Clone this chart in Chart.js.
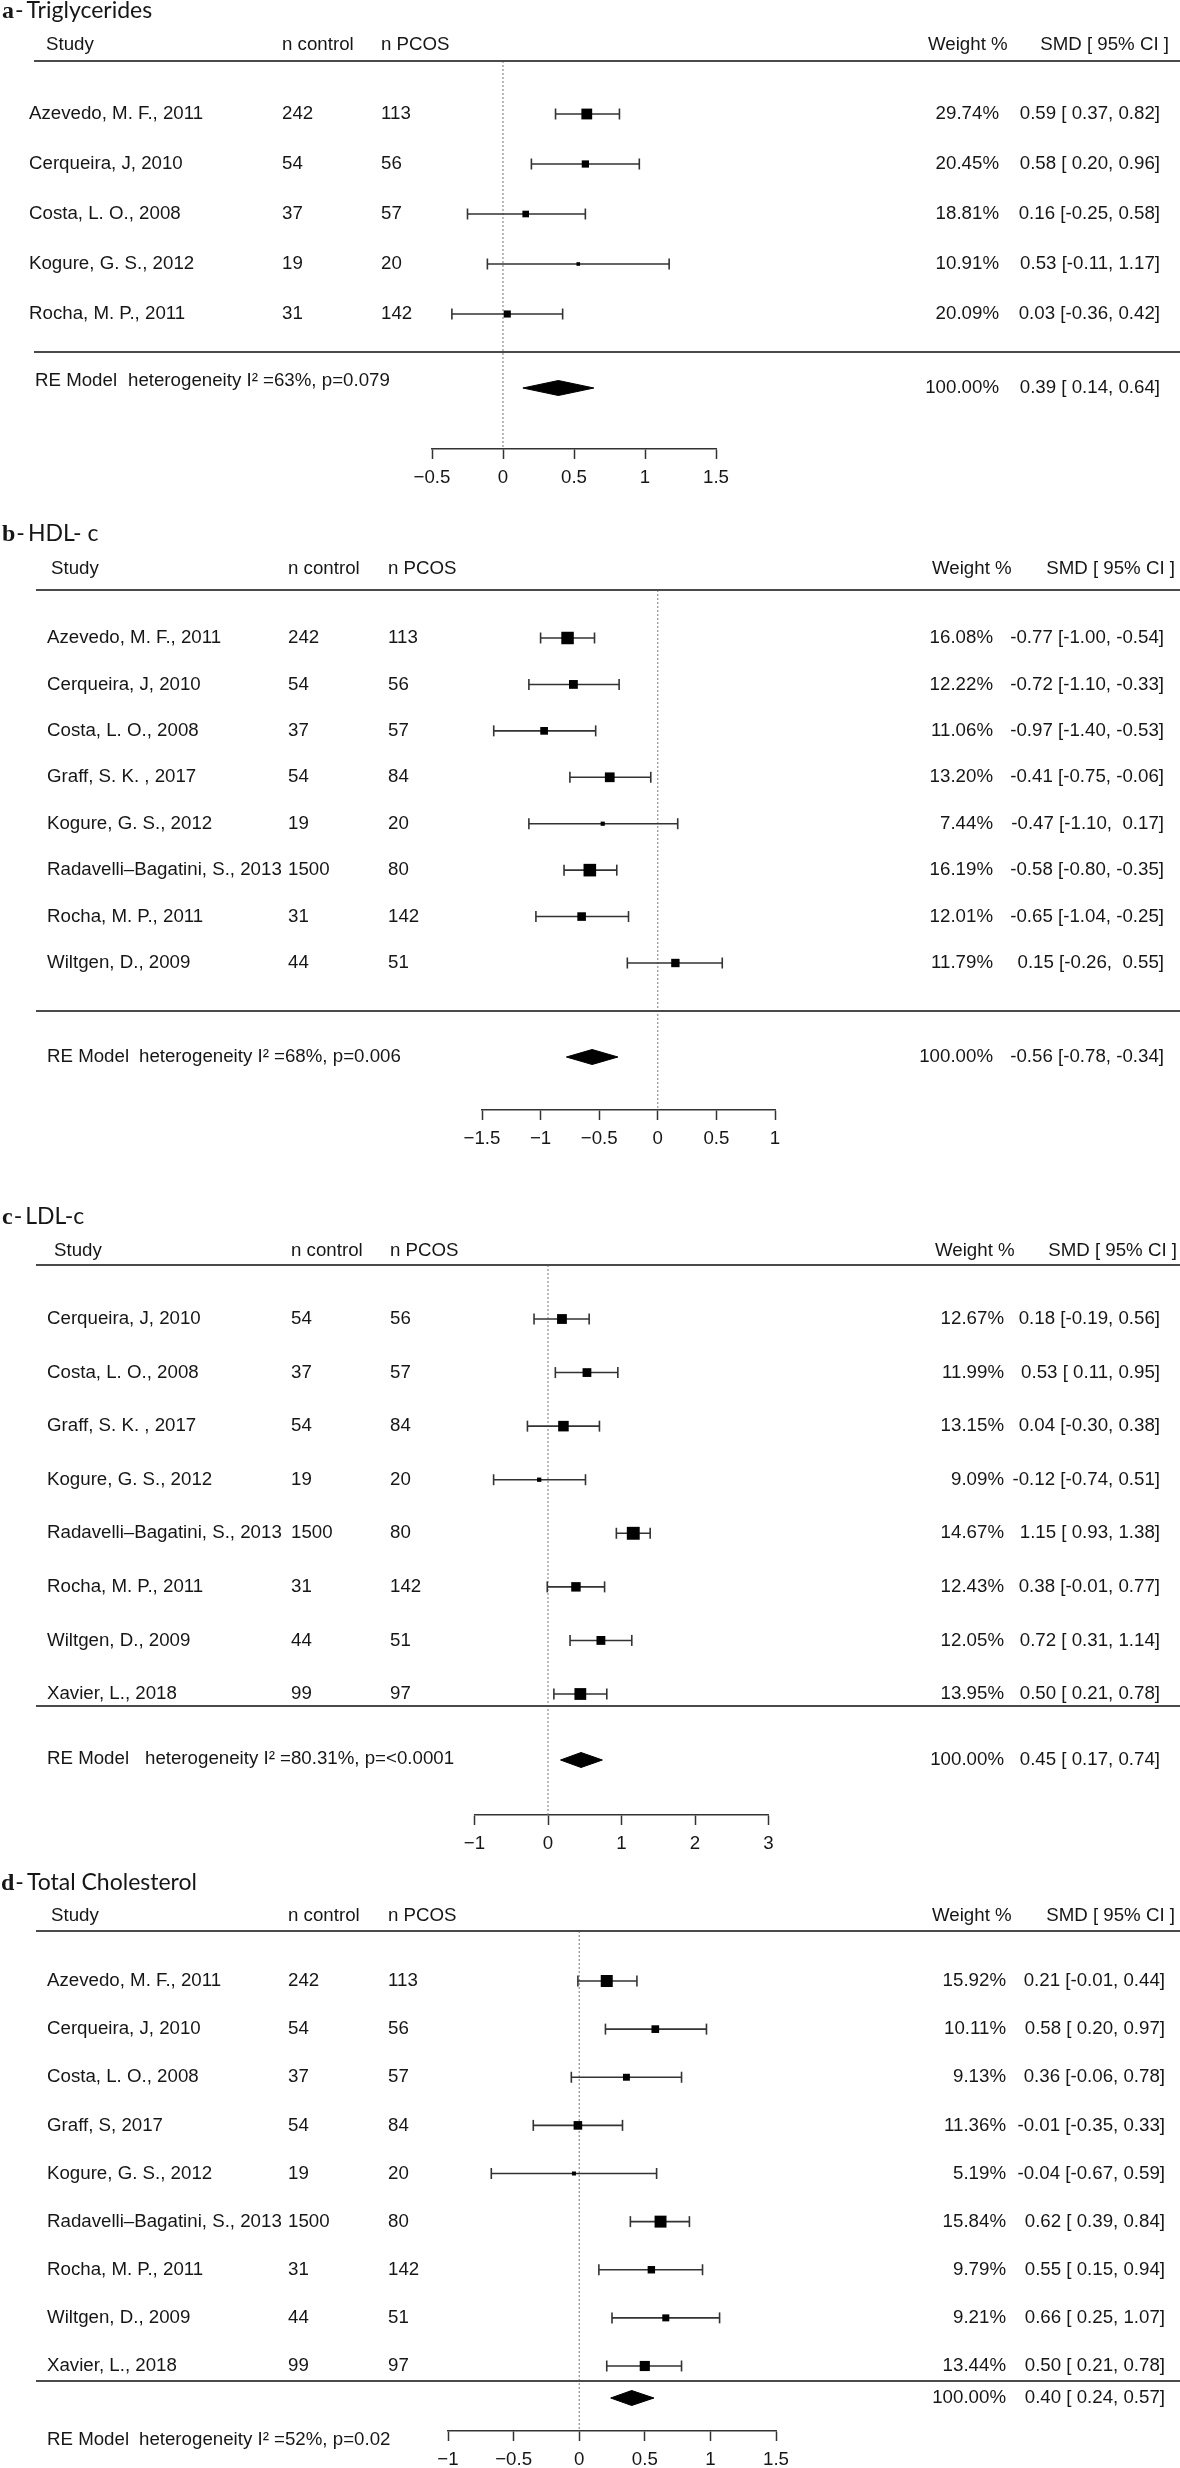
<!DOCTYPE html>
<html>
<head>
<meta charset="utf-8">
<script src="https://cdn.jsdelivr.net/npm/chart.js@4.4.1/dist/chart.umd.min.js"></script>
<style>
  html, body { margin: 0; padding: 0; background: #fff; }
  #wrap { position: relative; width: 1180px; height: 2468px; overflow: hidden; }
  #wrap canvas { position: absolute; left: 0; }
</style>
</head>
<body>
<div id="wrap">
  <canvas id="panelA"></canvas>
  <canvas id="panelB"></canvas>
  <canvas id="panelC"></canvas>
  <canvas id="panelD"></canvas>
</div>
<script>
(function(){
    "use strict";

    // ---- a - Triglycerides
    const studiesTG = ['Azevedo, M. F., 2011', 'Cerqueira, J, 2010', 'Costa, L. O., 2008', 'Kogure, G. S., 2012', 'Rocha, M. P., 2011'];
    const nControlTG = [242, 54, 37, 19, 31];
    const nPcosTG = [113, 56, 57, 20, 142];
    const weightTG = [29.74, 20.45, 18.81, 10.91, 20.09];
    const smdTG = [0.59, 0.58, 0.16, 0.53, 0.03];
    const loTG = [0.37, 0.20, -0.25, -0.11, -0.36];
    const hiTG = [0.82, 0.96, 0.58, 1.17, 0.42];
    const summaryTG = [0.39, 0.14, 0.64];
    const hetTG = 'heterogeneity I\u00B2 =63%, p=0.079';
    const ticksTG = [-0.5, 0, 0.5, 1, 1.5];

    // ---- b - HDL-c
    const studiesHDL = ['Azevedo, M. F., 2011', 'Cerqueira, J, 2010', 'Costa, L. O., 2008', 'Graff, S. K. , 2017', 'Kogure, G. S., 2012', 'Radavelli\u2013Bagatini, S., 2013', 'Rocha, M. P., 2011', 'Wiltgen, D., 2009'];
    const nControlHDL = [242, 54, 37, 54, 19, 1500, 31, 44];
    const nPcosHDL = [113, 56, 57, 84, 20, 80, 142, 51];
    const weightHDL = [16.08, 12.22, 11.06, 13.20, 7.44, 16.19, 12.01, 11.79];
    const smdHDL = [-0.77, -0.72, -0.97, -0.41, -0.47, -0.58, -0.65, 0.15];
    const loHDL = [-1.00, -1.10, -1.40, -0.75, -1.10, -0.80, -1.04, -0.26];
    const hiHDL = [-0.54, -0.33, -0.53, -0.06, 0.17, -0.35, -0.25, 0.55];
    const summaryHDL = [-0.56, -0.78, -0.34];
    const hetHDL = 'heterogeneity I\u00B2 =68%, p=0.006';
    const ticksHDL = [-1.5, -1, -0.5, 0, 0.5, 1];

    // ---- c - LDL-c (marks as drawn; printed values differ for two rows)
    const studiesLDL = ['Cerqueira, J, 2010', 'Costa, L. O., 2008', 'Graff, S. K. , 2017', 'Kogure, G. S., 2012', 'Radavelli\u2013Bagatini, S., 2013', 'Rocha, M. P., 2011', 'Wiltgen, D., 2009', 'Xavier, L., 2018'];
    const nControlLDL = [54, 37, 54, 19, 1500, 31, 44, 99];
    const nPcosLDL = [56, 57, 84, 20, 80, 142, 51, 97];
    const weightLDL = [12.67, 11.99, 13.15, 9.09, 14.67, 12.43, 12.05, 13.95];
    const smdLDL = [0.19, 0.53, 0.21, -0.12, 1.16, 0.38, 0.72, 0.44];
    const loLDL = [-0.19, 0.10, -0.28, -0.74, 0.93, -0.01, 0.30, 0.08];
    const hiLDL = [0.56, 0.95, 0.70, 0.51, 1.39, 0.77, 1.14, 0.80];
    const smdPrintLDL = [0.18, 0.53, 0.04, -0.12, 1.15, 0.38, 0.72, 0.50];
    const loPrintLDL = [-0.19, 0.11, -0.30, -0.74, 0.93, -0.01, 0.31, 0.21];
    const hiPrintLDL = [0.56, 0.95, 0.38, 0.51, 1.38, 0.77, 1.14, 0.78];
    const summaryLDL = [0.45, 0.17, 0.74];
    const hetLDL = 'heterogeneity I\u00B2 =80.31%, p=<0.0001';
    const ticksLDL = [-1, 0, 1, 2, 3];

    // ---- d - Total Cholesterol
    const studiesTC = ['Azevedo, M. F., 2011', 'Cerqueira, J, 2010', 'Costa, L. O., 2008', 'Graff, S, 2017', 'Kogure, G. S., 2012', 'Radavelli\u2013Bagatini, S., 2013', 'Rocha, M. P., 2011', 'Wiltgen, D., 2009', 'Xavier, L., 2018'];
    const nControlTC = [242, 54, 37, 54, 19, 1500, 31, 44, 99];
    const nPcosTC = [113, 56, 57, 84, 20, 80, 142, 51, 97];
    const weightTC = [15.92, 10.11, 9.13, 11.36, 5.19, 15.84, 9.79, 9.21, 13.44];
    const smdTC = [0.21, 0.58, 0.36, -0.01, -0.04, 0.62, 0.55, 0.66, 0.50];
    const loTC = [-0.01, 0.20, -0.06, -0.35, -0.67, 0.39, 0.15, 0.25, 0.21];
    const hiTC = [0.44, 0.97, 0.78, 0.33, 0.59, 0.84, 0.94, 1.07, 0.78];
    const summaryTC = [0.40, 0.24, 0.57];
    const hetTC = 'heterogeneity I\u00B2 =52%, p=0.02';
    const ticksTC = [-1, -0.5, 0, 0.5, 1, 1.5];

    const FONT = "'Liberation Sans', Arial, Helvetica, sans-serif";
    const TXT = '18.7px ' + FONT;
    const INK = '#161616';
    const MINUS = '\u2212';

    Chart.defaults.font.family = FONT;

    const panels = [
        {
            canvasId: 'panelA', letter: 'a', title: 'Triglycerides',
            studies: studiesTG, nControl: nControlTG, nPcos: nPcosTG, weight: weightTG,
            est: smdTG, lo: loTG, hi: hiTG, summary: summaryTG, het: hetTG, ticks: ticksTG,
            layout: { top: 0, height: 500, titleY: 10, headY: 45, lineY: 61, firstRowY: 114, lastRowY: 314,
                      sepY: 352, sumY: 388, sumTextY: 381, axisY: 449, xLeft: 432, xRight: 716, boxBase: 7.2,
                      titleX: 2, ruleX: 34, studyX: 29, studyHeadX: 46, ncX: 282, npX: 381,
                      wRight: 999, wHeadX: 928, smdRight: 1160, smdHeadRight: 1169, reX: 35, hetX: 128 }
        },
        {
            canvasId: 'panelB', letter: 'b', title: 'HDL- c',
            studies: studiesHDL, nControl: nControlHDL, nPcos: nPcosHDL, weight: weightHDL,
            est: smdHDL, lo: loHDL, hi: hiHDL, summary: summaryHDL, het: hetHDL, ticks: ticksHDL,
            layout: { top: 500, height: 665, titleY: 533, headY: 569, lineY: 590, firstRowY: 638, lastRowY: 963,
                      sepY: 1011, sumY: 1057, sumTextY: 1057, axisY: 1110, xLeft: 482, xRight: 775, boxBase: 8.4,
                      titleX: 2, ruleX: 36, studyX: 47, studyHeadX: 51, ncX: 288, npX: 388,
                      wRight: 993, wHeadX: 932, smdRight: 1164, smdHeadRight: 1175, reX: 47, hetX: 139 }
        },
        {
            canvasId: 'panelC', letter: 'c', title: 'LDL-c',
            studies: studiesLDL, nControl: nControlLDL, nPcos: nPcosLDL, weight: weightLDL,
            est: smdLDL, lo: loLDL, hi: hiLDL, summary: summaryLDL, het: hetLDL, ticks: ticksLDL,
            estPrint: smdPrintLDL, loPrint: loPrintLDL, hiPrint: hiPrintLDL,
            layout: { top: 1165, height: 697, titleY: 1216, headY: 1251, lineY: 1265, firstRowY: 1319, lastRowY: 1694,
                      sepY: 1706, sumY: 1760, sumTextY: 1759, axisY: 1815, xLeft: 474.5, xRight: 768.5, boxBase: 8.6,
                      titleX: 2, ruleX: 36, studyX: 47, studyHeadX: 54, ncX: 291, npX: 390,
                      wRight: 1004, wHeadX: 935, smdRight: 1160, smdHeadRight: 1177, reX: 47, hetX: 145 }
        },
        {
            canvasId: 'panelD', letter: 'd', title: 'Total Cholesterol',
            studies: studiesTC, nControl: nControlTC, nPcos: nPcosTC, weight: weightTC,
            est: smdTC, lo: loTC, hi: hiTC, summary: summaryTC, het: hetTC, ticks: ticksTC,
            layout: { top: 1862, height: 606, titleY: 1882, headY: 1916, lineY: 1931, firstRowY: 1981, lastRowY: 2366,
                      sepY: 2381, sumY: 2398, sumTextY: 2440, axisY: 2431, xLeft: 448, xRight: 776, boxBase: 8.0,
                      titleX: 1, ruleX: 36, studyX: 47, studyHeadX: 51, ncX: 288, npX: 388,
                      wRight: 1006, wHeadX: 932, smdRight: 1165, smdHeadRight: 1175, reX: 47, hetX: 139 }
        }
    ];

    // metafor-like column formatting: pad positives with a space when the column has negatives
    function fmtColumn(vals) {
        const anyNeg = vals.some(v => v < 0);
        return vals.map(v => (v < 0 ? '-' : (anyNeg ? ' ' : '')) + Math.abs(v).toFixed(2));
    }

    function tickLabel(v) {
        return (v < 0 ? MINUS : '') + String(Math.abs(v));
    }

    function ciStrings(p) {
        const e = (p.estPrint || p.est).concat([p.summary[0]]);
        const l = (p.loPrint || p.lo).concat([p.summary[1]]);
        const h = (p.hiPrint || p.hi).concat([p.summary[2]]);
        const fe = fmtColumn(e), fl = fmtColumn(l), fh = fmtColumn(h);
        return fe.map((s, i) => s + ' [' + fl[i] + ', ' + fh[i] + ']');
    }

    function drawText(chart, p, rows) {
        const L = p.layout;
        const ctx = chart.ctx;
        const ys = chart.scales.y;
        const ca = chart.chartArea;
        const off = L.top;
        const k = p.studies.length;
        const ci = ciStrings(p);

        ctx.save();
        ctx.fillStyle = INK;

        // panel title
        ctx.textBaseline = 'alphabetic';
        ctx.textAlign = 'left';
        const tb = L.titleY - off + 8;
        ctx.font = "bold 24px 'Liberation Serif', 'DejaVu Serif', serif";
        ctx.fillText(p.letter, L.titleX, tb);
        let x = L.titleX + ctx.measureText(p.letter).width + 1;
        ctx.font = "23px Lato, 'Open Sans', sans-serif";
        ctx.fillText('-', x, tb);
        x += ctx.measureText('-').width + 3;
        ctx.fillText(p.title, x, tb);

        // column headers
        ctx.font = TXT;
        ctx.textBaseline = 'middle';
        const hy = L.headY - off;
        ctx.fillText('Study', L.studyHeadX, hy);
        ctx.fillText('n control', L.ncX, hy);
        ctx.fillText('n PCOS', L.npX, hy);
        ctx.fillText('Weight %', L.wHeadX, hy);
        ctx.textAlign = 'right';
        ctx.fillText('SMD [ 95% CI ]', L.smdHeadRight, hy);

        // rules
        ctx.strokeStyle = '#4a4a4a';
        ctx.lineWidth = 2;
        ctx.beginPath();
        ctx.moveTo(L.ruleX, ca.top);
        ctx.lineTo(1180, ca.top);
        const sepPx = ys.getPixelForValue(rows.sep);
        ctx.moveTo(L.ruleX, sepPx);
        ctx.lineTo(1180, sepPx);
        ctx.stroke();

        // study rows
        for (let i = 0; i < k; i++) {
            const y = ys.getPixelForValue(i);
            ctx.textAlign = 'left';
            ctx.fillText(p.studies[i], L.studyX, y);
            ctx.fillText(String(p.nControl[i]), L.ncX, y);
            ctx.fillText(String(p.nPcos[i]), L.npX, y);
            ctx.textAlign = 'right';
            ctx.fillText(p.weight[i].toFixed(2) + '%', L.wRight, y);
            ctx.fillText(ci[i], L.smdRight, y);
        }

        // summary row
        const sy = ys.getPixelForValue(rows.sumText);
        ctx.textAlign = 'left';
        ctx.fillText('RE Model', L.reX, sy);
        ctx.fillText(p.het, L.hetX, sy);
        const ry = ys.getPixelForValue(rows.sumRight);
        ctx.textAlign = 'right';
        ctx.fillText('100.00%', L.wRight, ry);
        ctx.fillText(ci[k], L.smdRight, ry);

        ctx.restore();
    }

    function createPanel(p) {
        const L = p.layout;
        const k = p.studies.length;
        const sp = (L.lastRowY - L.firstRowY) / (k - 1);
        const toRow = px => (px - L.firstRowY) / sp;
        const rows = {
            min: toRow(L.lineY),
            max: toRow(L.axisY),
            sep: toRow(L.sepY),
            sum: toRow(L.sumY),
            sumText: toRow(L.sumTextY),
            sumRight: toRow(L.sumY)
        };

        const canvas = document.getElementById(p.canvasId);
        canvas.width = 1180;
        canvas.height = L.height;
        canvas.style.top = L.top + 'px';

        const ciData = [];
        const capData = [];
        p.studies.forEach((s, i) => {
            ciData.push({x: p.lo[i], y: i}, {x: p.hi[i], y: i}, {x: null, y: null});
            capData.push({x: p.lo[i], y: i}, {x: p.hi[i], y: i});
        });
        const boxData = p.est.map((v, i) => ({x: v, y: i}));
        const wMin = Math.min.apply(null, p.weight);
        const wMax = Math.max.apply(null, p.weight);
        const boxRadius = p.weight.map(w => L.boxBase * (0.5 + (w - wMin) / (wMax - wMin)) / Math.SQRT2);

        const dh = 7.5 / sp;
        const s = p.summary;
        const diamondTop = [{x: s[1], y: rows.sum}, {x: s[0], y: rows.sum - dh}, {x: s[2], y: rows.sum}];
        const diamondBottom = [{x: s[1], y: rows.sum}, {x: s[0], y: rows.sum + dh}, {x: s[2], y: rows.sum}];

        const xMin = p.ticks[0];
        const xMax = p.ticks[p.ticks.length - 1];

        return new Chart(canvas.getContext('2d'), {
            type: 'line',
            data: {
                datasets: [
                    {
                        label: 'boxes', data: boxData, showLine: false, order: 1,
                        pointStyle: 'rect', pointRadius: boxRadius, pointBackgroundColor: '#000',
                        pointBorderWidth: 0, clip: false
                    }, {
                        label: 'caps', data: capData, showLine: false, order: 2,
                        pointStyle: 'line', pointRotation: 90, pointRadius: 5.5,
                        pointBorderColor: '#333', pointBorderWidth: 1.6, clip: false
                    }, {
                        label: 'ci', data: ciData, order: 3, spanGaps: false,
                        borderColor: '#333', borderWidth: 1.6, pointRadius: 0, clip: false
                    }, {
                        label: 'summary top', data: diamondTop, order: 1,
                        borderColor: '#000', borderWidth: 1, pointRadius: 0, fill: false, clip: false
                    }, {
                        label: 'summary bottom', data: diamondBottom, order: 1,
                        borderColor: '#000', borderWidth: 1, pointRadius: 0,
                        fill: '-1', backgroundColor: '#000', clip: false
                    }, {
                        label: 'null', data: [{x: 0, y: rows.min}, {x: 0, y: rows.max}], order: 10,
                        borderColor: '#777', borderWidth: 1, borderDash: [2, 2], pointRadius: 0
                    }
                ]
            },
            options: {
                responsive: false,
                animation: false,
                events: [],
                layout: {
                    padding: { left: L.xLeft, right: 1180 - L.xRight, top: L.lineY - L.top, bottom: 0 }
                },
                plugins: {
                    legend: { display: false },
                    tooltip: { enabled: false }
                },
                scales: {
                    x: {
                        type: 'linear',
                        min: xMin,
                        max: xMax,
                        afterBuildTicks: sc => { sc.ticks = p.ticks.map(v => ({value: v})); },
                        afterFit: sc => { sc.height = L.top + L.height - L.axisY; },
                        grid: { drawOnChartArea: false, drawTicks: true, tickLength: 10, color: '#333', tickColor: '#333', tickWidth: 1.5 },
                        border: { display: true, color: '#333', width: 1.5 },
                        ticks: {
                            autoSkip: false, maxRotation: 0, padding: 8, color: INK,
                            font: { size: 18.7 },
                            callback: v => tickLabel(v)
                        }
                    },
                    y: {
                        type: 'linear',
                        display: false,
                        reverse: true,
                        min: rows.min,
                        max: rows.max
                    }
                }
            },
            plugins: [{
                id: 'forestText',
                afterDraw: chart => drawText(chart, p, rows)
            }]
        });
    }

    panels.forEach(createPanel);
})();
</script>
</body>
</html>
